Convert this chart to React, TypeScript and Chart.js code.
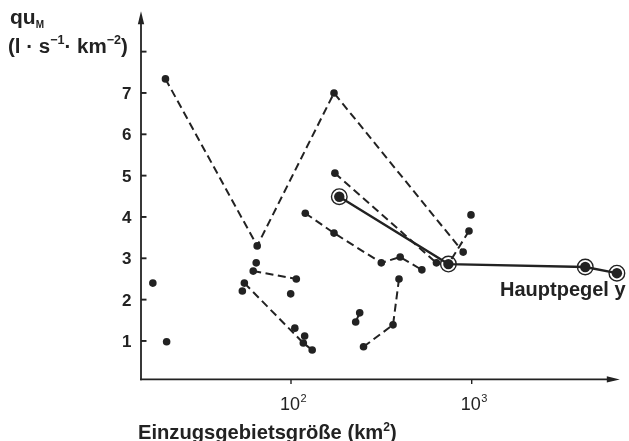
import React, { useEffect, useRef } from "react";
import { Chart, registerables } from "chart.js";

Chart.register(...registerables);

// ---- data (x: catchment area km², y: quM l·s⁻¹·km⁻²) ----
const zigzagX = [20.2, 65, 173, 897];
const zigzagY = [7.34, 3.3, 7.0, 3.15];

const chainX = [120, 173, 316, 402, 530];
const chainY = [4.09, 3.61, 2.89, 3.03, 2.72];

const lineBX = [175, 638];
const lineBY = [5.06, 2.89];

const lineCX = [966, 743];
const lineCY = [3.66, 2.86];

const lineDX = [61.8, 107];
const lineDY = [2.69, 2.5];

const lineEX = [55.2, 117, 131];
const lineEY = [2.4, 0.95, 0.78];

const lineFX = [396, 367, 252];
const lineFY = [2.5, 1.39, 0.86];

const lineGX = [240, 228];
const lineGY = [1.68, 1.46];

const hauptX = [185, 743, 4250, 6360];
const hauptY = [4.49, 2.86, 2.79, 2.64];

const isolatedX = [17.2, 20.5, 64.2, 53.8, 99.6, 105, 119, 991];
const isolatedY = [2.4, 0.98, 2.89, 2.21, 2.14, 1.31, 1.12, 4.05];

const yTickValues = [1, 2, 3, 4, 5, 6, 7, 8];
const yTickLabels = ["1", "2", "3", "4", "5", "6", "7", ""];
const xTickValues = [100, 1000];
const xTickBase = "10";
const xTickExponents = ["2", "3"];

const xTitle = "Einzugsgebietsgröße (km";
const yTitleMain = "qu";
const yTitleSub = "M";
const hauptLabel = "Hauptpegel y";

const FONT = '"Liberation Sans", Arial, Helvetica, sans-serif';
const INK = "#222222";

type Part = { t: string; size: number; dy: number; bold?: boolean };

function measureRich(ctx: CanvasRenderingContext2D, parts: Part[], k = 1) {
  let w = 0;
  for (const p of parts) {
    ctx.font = `${p.bold === false ? "" : "bold "}${p.size * k}px ${FONT}`;
    w += ctx.measureText(p.t).width;
  }
  return w;
}

function drawRich(
  ctx: CanvasRenderingContext2D,
  parts: Part[],
  x: number,
  y: number,
  target?: number
) {
  let k = 1;
  if (target) k = target / measureRich(ctx, parts, 1);
  let cx = x;
  ctx.textAlign = "left";
  ctx.textBaseline = "alphabetic";
  for (const p of parts) {
    ctx.font = `${p.bold === false ? "" : "bold "}${p.size * k}px ${FONT}`;
    ctx.fillText(p.t, cx, y + p.dy * k);
    cx += ctx.measureText(p.t).width;
  }
}

const pts = (xs: number[], ys: number[]) => xs.map((x, i) => ({ x, y: ys[i] }));

const axesPlugin = {
  id: "customAxes",
  afterDraw(chart: any) {
    const { ctx, chartArea: ca, scales } = chart;
    const xs = scales.x;
    const ys = scales.y;
    ctx.save();
    ctx.strokeStyle = INK;
    ctx.fillStyle = INK;
    ctx.lineCap = "butt";

    const ax = ca.left;
    const ay = ca.bottom;

    // y axis with arrow
    ctx.lineWidth = 1.8;
    ctx.beginPath();
    ctx.moveTo(ax, ay + 0.9);
    ctx.lineTo(ax, ca.top + 6);
    ctx.stroke();
    ctx.beginPath();
    ctx.moveTo(ax, ca.top + 1);
    ctx.lineTo(ax - 3.2, ca.top + 14);
    ctx.lineTo(ax + 3.2, ca.top + 14);
    ctx.closePath();
    ctx.fill();

    // x axis with arrow
    ctx.beginPath();
    ctx.moveTo(ax - 0.9, ay);
    ctx.lineTo(ca.right - 6, ay);
    ctx.stroke();
    ctx.beginPath();
    ctx.moveTo(ca.right, ay);
    ctx.lineTo(ca.right - 13, ay - 3.2);
    ctx.lineTo(ca.right - 13, ay + 3.2);
    ctx.closePath();
    ctx.fill();

    // y ticks + labels
    ctx.lineWidth = 1.9;
    yTickValues.forEach((v, i) => {
      const py = ys.getPixelForValue(v);
      ctx.beginPath();
      ctx.moveTo(ax, py);
      ctx.lineTo(ax + 5.5, py);
      ctx.stroke();
      if (yTickLabels[i]) {
        ctx.font = `bold 17px ${FONT}`;
        ctx.textAlign = "right";
        ctx.textBaseline = "alphabetic";
        ctx.fillText(yTickLabels[i], ax - 9.5, py + 6);
      }
    });

    // x ticks + labels
    xTickValues.forEach((v, i) => {
      const px = xs.getPixelForValue(v);
      ctx.lineWidth = 1.4;
      ctx.beginPath();
      ctx.moveTo(px, ay);
      ctx.lineTo(px, ay + 4.5);
      ctx.stroke();
      ctx.font = `18px ${FONT}`;
      const w = ctx.measureText(xTickBase).width;
      ctx.textAlign = "left";
      ctx.textBaseline = "alphabetic";
      const lx = px - 1 - w / 2;
      ctx.fillText(xTickBase, lx, ay + 30.5);
      ctx.font = `11px ${FONT}`;
      ctx.fillText(xTickExponents[i], lx + w + 0.5, ay + 22.5);
    });

    // x title
    drawRich(
      ctx,
      [
        { t: xTitle, size: 20, dy: 0 },
        { t: "2", size: 12, dy: -8 },
        { t: ")", size: 20, dy: 0 },
      ],
      138,
      439,
      259
    );

    // y title
    drawRich(
      ctx,
      [
        { t: yTitleMain, size: 21, dy: 0 },
        { t: yTitleSub, size: 10, dy: 3.5 },
      ],
      10,
      24
    );
    drawRich(
      ctx,
      [
        { t: "(l · s", size: 18, dy: 0 },
        { t: "−1", size: 11, dy: -8 },
        { t: "· km", size: 18, dy: 0 },
        { t: "−2", size: 11, dy: -8 },
        { t: ")", size: 18, dy: 0 },
      ],
      8,
      53,
      120
    );

    // annotation
    ctx.font = `bold 20px ${FONT}`;
    ctx.textAlign = "left";
    ctx.textBaseline = "alphabetic";
    ctx.fillText(hauptLabel, 500, 296);

    ctx.restore();
  },
};

export default function App() {
  const ref = useRef<HTMLCanvasElement | null>(null);

  useEffect(() => {
    if (!ref.current) return;
    const dashed = (xs: number[], ys: number[]) => ({
      data: pts(xs, ys),
      showLine: true,
      borderColor: INK,
      borderWidth: 2,
      borderDash: [8, 4.5],
      pointRadius: 3.8,
      pointBackgroundColor: INK,
      pointBorderColor: INK,
      pointBorderWidth: 0,
      clip: false,
    });

    const chart = new Chart(ref.current, {
      type: "scatter",
      data: {
        datasets: [
          dashed(zigzagX, zigzagY),
          dashed(chainX, chainY),
          dashed(lineBX, lineBY),
          dashed(lineCX, lineCY),
          dashed(lineDX, lineDY),
          dashed(lineEX, lineEY),
          dashed(lineFX, lineFY),
          dashed(lineGX, lineGY),
          {
            data: pts(isolatedX, isolatedY),
            showLine: false,
            pointRadius: 3.8,
            pointBackgroundColor: INK,
            pointBorderColor: INK,
            pointBorderWidth: 0,
            clip: false,
          },
          {
            data: pts(hauptX, hauptY),
            showLine: true,
            borderColor: INK,
            borderWidth: 2.4,
            pointRadius: 5.2,
            pointBackgroundColor: INK,
            pointBorderColor: INK,
            pointBorderWidth: 0,
            clip: false,
          },
          {
            data: pts(hauptX, hauptY),
            showLine: false,
            pointRadius: 7.8,
            pointBackgroundColor: "rgba(0,0,0,0)",
            pointBorderColor: INK,
            pointBorderWidth: 1.4,
            clip: false,
          },
        ] as any,
      },
      options: {
        animation: false,
        responsive: false,
        events: [],
        layout: { padding: { top: 10.3, right: 2, left: 0, bottom: 0 } },
        elements: { line: { tension: 0 } },
        plugins: { legend: { display: false }, tooltip: { enabled: false } },
        scales: {
          x: {
            type: "logarithmic",
            min: 14.79,
            max: 6600,
            grid: { display: false },
            border: { display: false },
            ticks: { display: false },
            afterFit: (s: any) => {
              s.height = 441 - 379.4;
            },
          },
          y: {
            type: "linear",
            min: 0.07,
            max: 9,
            grid: { display: false },
            border: { display: false },
            ticks: { display: false },
            afterFit: (s: any) => {
              s.width = 141;
            },
          },
        },
      } as any,
      plugins: [axesPlugin],
    });
    return () => chart.destroy();
  }, []);

  return (
    <div style={{ position: "fixed", left: 0, top: 0, width: 629, height: 441, background: "#fff" }}>
      <canvas ref={ref} width={629} height={441} style={{ display: "block" }} />
    </div>
  );
}
